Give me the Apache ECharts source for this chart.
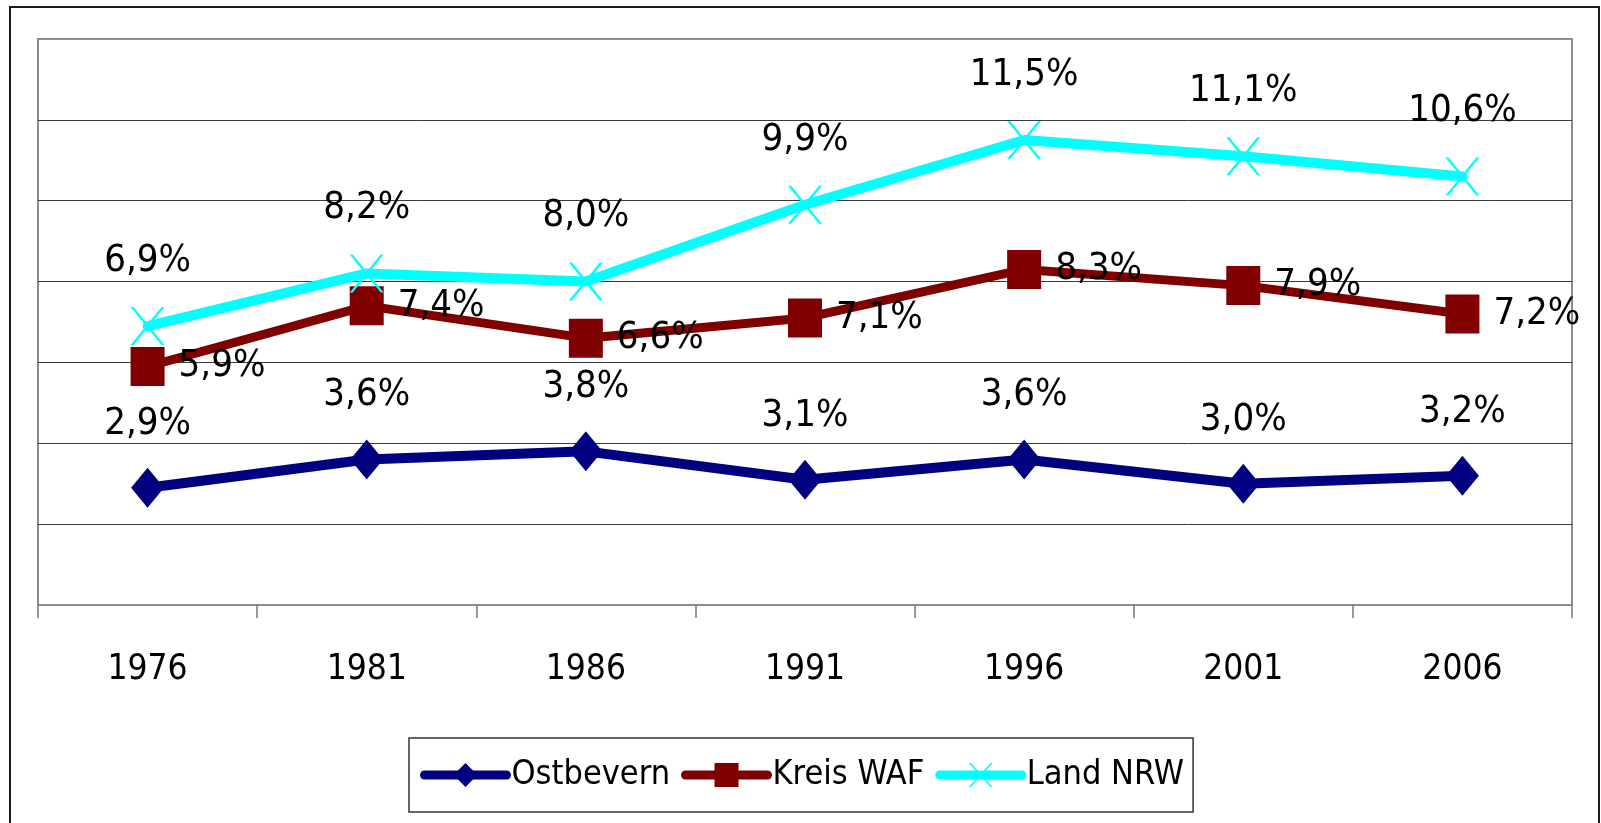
<!DOCTYPE html>
<html>
<head>
<meta charset="utf-8">
<script src="https://cdn.jsdelivr.net/npm/echarts@6/dist/echarts.min.js"></script>
<style>
  html, body { margin: 0; padding: 0; background: #fff; }
  #chart { width: 1601px; height: 823px; }
</style>
</head>
<body>
<div id="chart"></div>
<script>
// Jahre
const years = ['1976', '1981', '1986', '1991', '1996', '2001', '2006'];
// Anteile in %
const ostbevern = [2.9, 3.6, 3.8, 3.1, 3.6, 3.0, 3.2];
const kreisWaf = [5.9, 7.4, 6.6, 7.1, 8.3, 7.9, 7.2];
const landNrw = [6.9, 8.2, 8.0, 9.9, 11.5, 11.1, 10.6];

const narrowFont = "'Liberation Sans Narrow', 'DejaVu Sans Condensed', sans-serif";
const labelFont = "'DejaVu Sans Condensed', 'DejaVu Sans', sans-serif";

// X-Symbol als gefuelltes Polygon
const crossPath = 'path://M0,0 L9,0 L100,100 L91,100 Z M91,0 L100,0 L9,100 L0,100 Z';

// Zahl im deutschen Format
function fmt(p) {
  return p.value.toFixed(1).replace('.', ',') + '%';
}

function makeLabel(position, distance) {
  return {
    show: true,
    position: position,
    distance: distance,
    formatter: fmt,
    color: '#000',
    fontFamily: labelFont,
    fontSize: 38
  };
}

const chart = echarts.init(document.getElementById('chart'));

chart.setOption({
  backgroundColor: '#fff',
  animation: false,
  graphic: [{
    type: 'rect',
    shape: { x: 10, y: 7, width: 1589, height: 840 },
    style: { fill: 'none', stroke: '#1a1a1a', lineWidth: 2 },
    silent: true
  }],
  grid: {
    left: 38,
    right: 29,
    top: 39,
    bottom: 218,
    show: true,
    borderColor: '#8c8c8c',
    borderWidth: 2,
    backgroundColor: '#fff'
  },
  legend: {
    left: 409,
    top: 738,
    padding: [15, 9, 15, 11],
    itemWidth: 82,
    itemHeight: 30,
    itemGap: 11,
    borderColor: '#333',
    borderWidth: 1.5,
    selectedMode: false,
    lineStyle: { width: 9, cap: 'round' },
    textStyle: {
      fontFamily: narrowFont,
      fontSize: 34,
      lineHeight: 44,
      color: '#000'
    },
    data: ['Ostbevern', 'Kreis WAF', 'Land NRW']
  },
  xAxis: {
    type: 'category',
    data: years,
    boundaryGap: true,
    axisLine: { lineStyle: { color: '#8c8c8c', width: 2 } },
    axisTick: { show: true, interval: 0, length: 13, lineStyle: { color: '#777', width: 1.5 } },
    axisLabel: {
      margin: 47,
      color: '#000',
      fontFamily: narrowFont,
      fontSize: 35
    },
    splitLine: { show: false }
  },
  yAxis: {
    type: 'value',
    min: 0,
    max: 14,
    interval: 2,
    axisLine: { show: false },
    axisTick: { show: false },
    axisLabel: { show: false },
    splitLine: {
      show: true,
      showMinLine: false,
      showMaxLine: false,
      lineStyle: { color: '#3a3a3a', width: 1 }
    }
  },
  series: [
    {
      name: 'Ostbevern',
      type: 'line',
      data: ostbevern,
      symbol: 'diamond',
      symbolSize: [33, 40],
      color: '#000080',
      lineStyle: { color: '#000080', width: 10, cap: 'round' },
      itemStyle: { color: '#000080' },
      label: makeLabel('top', 25)
    },
    {
      name: 'Kreis WAF',
      type: 'line',
      data: kreisWaf,
      symbol: 'rect',
      symbolSize: [34, 39],
      color: '#800000',
      lineStyle: { color: '#800000', width: 9, cap: 'round' },
      itemStyle: { color: '#800000' },
      label: makeLabel('right', 14)
    },
    {
      name: 'Land NRW',
      type: 'line',
      data: landNrw,
      symbol: crossPath,
      symbolSize: [34, 38],
      color: '#00ffff',
      lineStyle: { color: '#00ffff', width: 10, cap: 'round' },
      itemStyle: { color: '#00ffff' },
      label: makeLabel('top', 27)
    }
  ]
});
</script>
</body>
</html>
